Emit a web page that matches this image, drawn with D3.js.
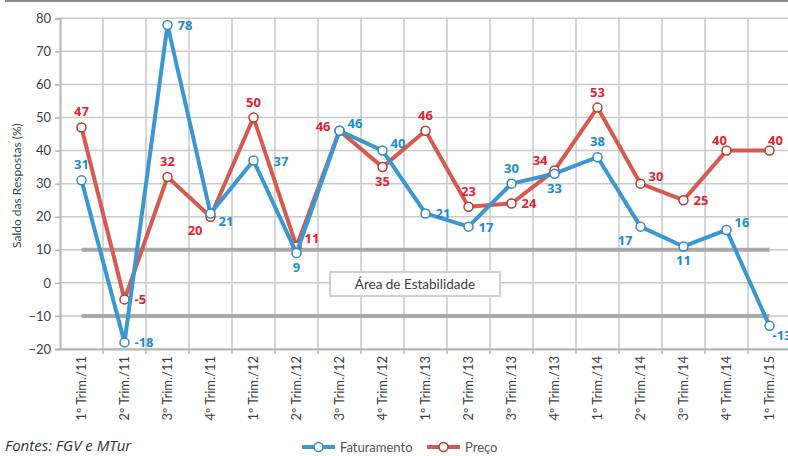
<!DOCTYPE html>
<html>
<head>
<meta charset="utf-8">
<script src="https://cdn.jsdelivr.net/npm/d3@7"></script>
<style>
  body { margin:0; background:#fff; overflow:hidden; }
  svg { display:block; font-family:Lato, "Open Sans", sans-serif; }
</style>
</head>
<body>
<script>
var categories = ["1º Trim./11","2º Trim./11","3º Trim./11","4º Trim./11","1º Trim./12","2º Trim./12","3º Trim./12","4º Trim./12","1º Trim./13","2º Trim./13","3º Trim./13","4º Trim./13","1º Trim./14","2º Trim./14","3º Trim./14","4º Trim./14","1º Trim./15"];
var faturamento = [31,-18,78,21,37,9,46,40,21,17,30,33,38,17,11,16,-13];
var preco = [47,-5,32,20,50,11,46,35,46,23,24,34,53,30,25,40,40];
var yTicks = [-20,-10,0,10,20,30,40,50,60,70,80];
var stabilityBounds = [10,-10];

// where each value label sits around its point
var fatPlace = ["t","r","r","br","r2","b","tr","tr","r","r","t","b","t","bl","b","tr","b3"];
var prePlace = ["t","r","t","bl","t","tr","l","b","t","t","r","tl","t","tr","r","tl2","tr2"];

var W = 788, H = 456;
var svg = d3.select("body").append("svg").attr("width", W).attr("height", H);

var plotL = 60, plotR = 791, plotT = 18.3, plotB = 349;

var x = d3.scalePoint().domain(categories).range([plotL, plotR]).padding(0.5);
var xb = d3.scaleBand().domain(categories).range([plotL, plotR]);
var y = d3.scaleLinear().domain([-20, 80]).range([plotB, plotT]);

// top border
svg.append("line").attr("x1", 5).attr("x2", W).attr("y1", 1).attr("y2", 1)
  .style("stroke", "#8a8a8a").style("stroke-width", 2);

// grid
svg.append("g").selectAll("line").data(yTicks).enter().append("line")
  .attr("x1", plotL).attr("x2", W).attr("y1", function(d){return y(d)}).attr("y2", function(d){return y(d)})
  .style("stroke", "#c9c9c9").style("stroke-width", 1.5);
svg.append("g").selectAll("line").data(categories).enter().append("line")
  .attr("x1", function(d){return xb(d)+xb.step()}).attr("x2", function(d){return xb(d)+xb.step()})
  .attr("y1", plotT).attr("y2", plotB)
  .style("stroke", "#c9c9c9").style("stroke-width", 1.5);

// y axis
var yAxis = svg.append("g").attr("transform", "translate(" + plotL + ",0)")
  .call(d3.axisLeft(y).tickValues(yTicks).tickSize(5).tickPadding(4));
yAxis.select(".domain").style("stroke", "#b5b5b5").style("stroke-width", 2);
yAxis.selectAll(".tick line").style("stroke", "#b5b5b5").style("stroke-width", 1.5);
yAxis.selectAll("text").style("font-size", "13px").style("fill", "#404040")
  .style("font-family", "Lato, sans-serif");

// x axis
var xAxis = svg.append("g").attr("transform", "translate(0," + plotB + ")")
  .call(d3.axisBottom(xb).tickSize(0).tickPadding(0));
xAxis.select(".domain").style("stroke", "#b5b5b5").style("stroke-width", 2);
xAxis.selectAll("text")
  .attr("transform", "rotate(-90)")
  .attr("x", -7).attr("y", 0).attr("dy", "0.35em")
  .style("text-anchor", "end")
  .style("font-size", "13px").style("fill", "#404040")
  .style("font-family", "Lato, sans-serif");
svg.append("g").selectAll("line").data(categories).enter().append("line")
  .attr("x1", function(d){return xb(d)+xb.step()}).attr("x2", function(d){return xb(d)+xb.step()})
  .attr("y1", plotB).attr("y2", plotB + 5)
  .style("stroke", "#b5b5b5").style("stroke-width", 1.5);

// stability band lines
svg.append("g").selectAll("line").data(stabilityBounds).enter().append("line")
  .attr("x1", x(categories[0])).attr("x2", x(categories[categories.length-1]))
  .attr("y1", function(d){return y(d)}).attr("y2", function(d){return y(d)})
  .style("stroke", "#a9a9a9").style("stroke-width", 4);

var boxX = 330, boxW = 170;
svg.append("rect").attr("x", boxX).attr("y", 272).attr("width", boxW).attr("height", 24)
  .style("fill", "#fff").style("stroke", "#cfcfcf").style("stroke-width", 2);
svg.append("text").attr("x", boxX + boxW/2).attr("y", 289).attr("text-anchor", "middle")
  .style("font-size", "13.5px").style("fill", "#404040").text("Área de Estabilidade");

// y title
svg.append("text").attr("transform", "translate(21," + ((plotT+plotB)/2 + 2) + ") rotate(-90)")
  .attr("text-anchor", "middle").style("font-size", "12px").style("fill", "#404040")
  .text("Saldo das Respostas (%)");

var offsets = {
  t: [0, -11, "middle"], b: [0, 19, "middle"], r: [10, 5, "start"], r2: [20, 5, "start"],
  l: [-9, 0, "end"], tr: [8, -3, "start"], tl: [-7, -5, "end"],
  br: [8, 13, "start"], bl: [-8, 18, "end"], b3: [3, 14, "start"],
  tl2: [-7, -6, "middle"], tr2: [6, -6, "middle"]
};

var line = d3.line().x(function(d, i){return x(categories[i])}).y(function(d){return y(d)});

function drawSeries(values, place, lineColor, dotColor, labelColor) {
  var g = svg.append("g");
  g.append("path").datum(values).attr("d", line)
    .style("fill", "none").style("stroke", lineColor).style("stroke-width", 4)
    .style("stroke-linejoin", "round");
  g.selectAll("circle").data(values).enter().append("circle")
    .attr("cx", function(d, i){return x(categories[i])}).attr("cy", function(d){return y(d)})
    .attr("r", 4.5).style("fill", "#fff").style("stroke", dotColor).style("stroke-width", 1.5);
  g.selectAll("text").data(values).enter().append("text")
    .attr("x", function(d, i){return x(categories[i]) + offsets[place[i]][0]})
    .attr("y", function(d, i){return y(d) + offsets[place[i]][1]})
    .attr("text-anchor", function(d, i){return offsets[place[i]][2]})
    .style("font-family", "'Open Sans', sans-serif")
    .style("font-size", "13px").style("font-weight", "bold").style("fill", labelColor)
    .text(function(d){return d});
}

drawSeries(preco, prePlace, "#d65a4f", "#b53c32", "#e2232f");
drawSeries(faturamento, fatPlace, "#3a97d2", "#2f8ac6", "#1b8bd0");

// footer
svg.append("text").attr("x", 5).attr("y", 451)
  .style("font-family", "'Open Sans', sans-serif")
  .style("font-size", "15px").style("font-style", "italic").style("fill", "#333")
  .text("Fontes: FGV e MTur");

var legend = [["Faturamento", "#3a97d2", "#2f8ac6", 302], ["Preço", "#d65a4f", "#b53c32", 427]];
var lg = svg.append("g").selectAll("g").data(legend).enter().append("g")
  .attr("transform", function(d){return "translate(" + d[3] + ",447)"});
lg.append("line").attr("x1", 0).attr("x2", 33).attr("y1", 0).attr("y2", 0)
  .style("stroke", function(d){return d[1]}).style("stroke-width", 4);
lg.append("circle").attr("cx", 16.5).attr("cy", 0).attr("r", 4.5)
  .style("fill", "#fff").style("stroke", function(d){return d[2]}).style("stroke-width", 1.5);
lg.append("text").attr("x", 38).attr("y", 4.5)
  .style("font-size", "13px").style("fill", "#555").text(function(d){return d[0]});
</script>
</body>
</html>
